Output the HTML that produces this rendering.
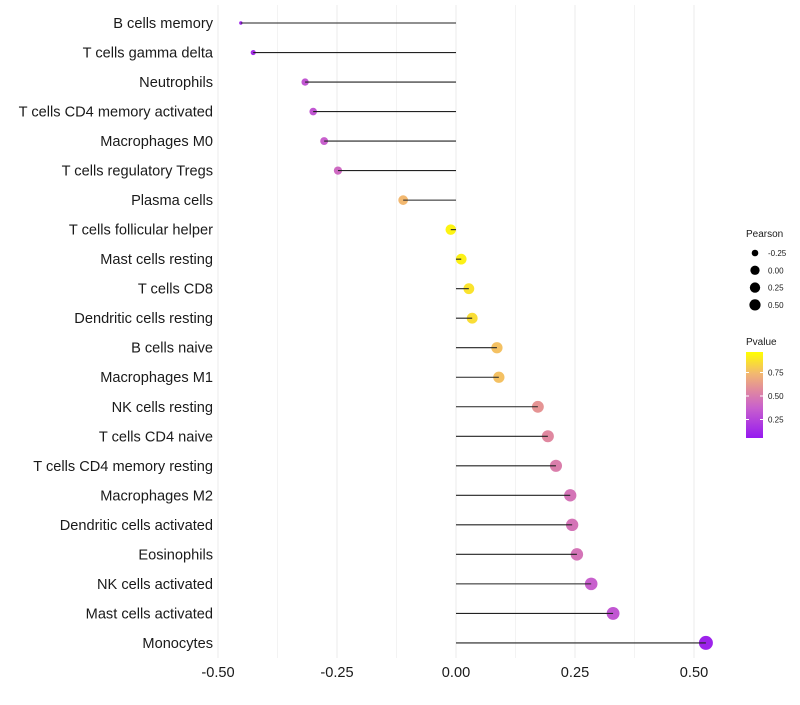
<!DOCTYPE html>
<html><head><meta charset="utf-8"><style>
body{margin:0;background:#fff;font-family:"Liberation Sans",sans-serif}
</style></head><body>
<svg id="chart" width="800" height="700" xmlns="http://www.w3.org/2000/svg" font-family="Liberation Sans, sans-serif"></svg>
<script>
const categories=["B cells memory","T cells gamma delta","Neutrophils","T cells CD4 memory activated","Macrophages M0","T cells regulatory  Tregs","Plasma cells","T cells follicular helper","Mast cells resting","T cells CD8","Dendritic cells resting","B cells naive","Macrophages M1","NK cells resting","T cells CD4 naive","T cells CD4 memory resting","Macrophages M2","Dendritic cells activated","Eosinophils","NK cells activated","Mast cells activated","Monocytes"];
const pearson=[-0.452,-0.426,-0.317,-0.300,-0.277,-0.248,-0.111,-0.011,0.011,0.027,0.034,0.086,0.090,0.172,0.193,0.210,0.240,0.244,0.254,0.284,0.330,0.525];
const pvalue=[0.05,0.1,0.3,0.3,0.35,0.4,0.75,0.96,0.95,0.9,0.88,0.78,0.78,0.6,0.55,0.5,0.45,0.45,0.45,0.35,0.3,0.05];
const xTicks=[-0.5,-0.25,0,0.25,0.5];
const xTickLabels=["-0.50","-0.25","0.00","0.25","0.50"];
const sizeLegend=[-0.25,0,0.25,0.5];
const sizeLegendLabels=["-0.25","0.00","0.25","0.50"];
const colorTicks=[0.75,0.5,0.25];

const svg=document.getElementById('chart');
const NS="http://www.w3.org/2000/svg";
function mk(t,a,p){const e=document.createElementNS(NS,t);for(const k in a)e.setAttribute(k,a[k]);(p||svg).appendChild(e);return e;}
const x=v=>456+v*476;
const y=i=>23+i*29.52;
const rS=v=>1.7+5.3*Math.sqrt(Math.max(0,(v+0.452)/0.977));
const rL=v=>3.3+2.3*Math.sqrt((v+0.25)/0.75);
const stops=[[0,[150,25,240]],[0.35,[200,96,205]],[0.55,[224,136,160]],[0.75,[242,184,112]],[1,[255,255,0]]];
function col(p){for(let i=1;i<stops.length;i++){if(p<=stops[i][0]){const a=stops[i-1],b=stops[i],t=(p-a[0])/(b[0]-a[0]);const c=a[1].map((v,j)=>Math.round(v+(b[1][j]-v)*t));return `rgb(${c})`;}}return 'rgb(255,255,0)';}

for(let v=-0.5;v<=0.55;v+=0.125){const g=mk('line',{x1:x(v),x2:x(v),y1:5,y2:658,stroke:'#ebebeb','stroke-width':Math.abs((v*4)%1)<0.01?1:0.6});

}

categories.forEach((c,i)=>{
 const t=mk('text',{x:213,y:y(i)+5,'text-anchor':'end','font-size':14.6,fill:'#1a1a1a'});t.textContent=c;
 
 
 const d=mk('circle',{cx:x(pearson[i]),cy:y(i),r:rS(pearson[i]),fill:col(pvalue[i])});
 
 
 const l=mk('line',{x1:x(0),x2:x(pearson[i]),y1:y(i),y2:y(i),stroke:'#222','stroke-width':1.1});
 
 
});
xTicks.forEach((v,i)=>{const t=mk('text',{x:x(v),y:677,'text-anchor':'middle','font-size':14.6,fill:'#1a1a1a'});t.textContent=xTickLabels[i];
 
 });

const lt=mk('text',{x:746,y:237,'font-size':10,fill:'#1a1a1a'});lt.textContent='Pearson';


sizeLegend.forEach((v,i)=>{const yy=253+i*17.3;
 const c=mk('circle',{cx:755,cy:yy,r:rL(v),fill:'#000'});
 
 
 const t=mk('text',{x:768,y:yy+3,'font-size':8,fill:'#1a1a1a'});t.textContent=sizeLegendLabels[i];
 
 });
const ct=mk('text',{x:746,y:345,'font-size':10,fill:'#1a1a1a'});ct.textContent='Pvalue';


const defs=mk('defs',{});const lg=mk('linearGradient',{id:'gr',x1:0,y1:1,x2:0,y2:0},defs);
stops.forEach(s=>mk('stop',{offset:s[0],'stop-color':`rgb(${s[1]})`},lg));
const py=p=>396-(p-0.5)*94;
const bar=mk('rect',{x:746,y:352,width:17,height:86,fill:'url(#gr)'});


colorTicks.forEach(p=>{mk('line',{x1:746,x2:749,y1:py(p),y2:py(p),stroke:'#fff'});mk('line',{x1:760,x2:763,y1:py(p),y2:py(p),stroke:'#fff'});
 const t=mk('text',{x:768,y:py(p)+3,'font-size':8,fill:'#1a1a1a'});t.textContent=p.toFixed(2);
 
 });
</script>
</body></html>
